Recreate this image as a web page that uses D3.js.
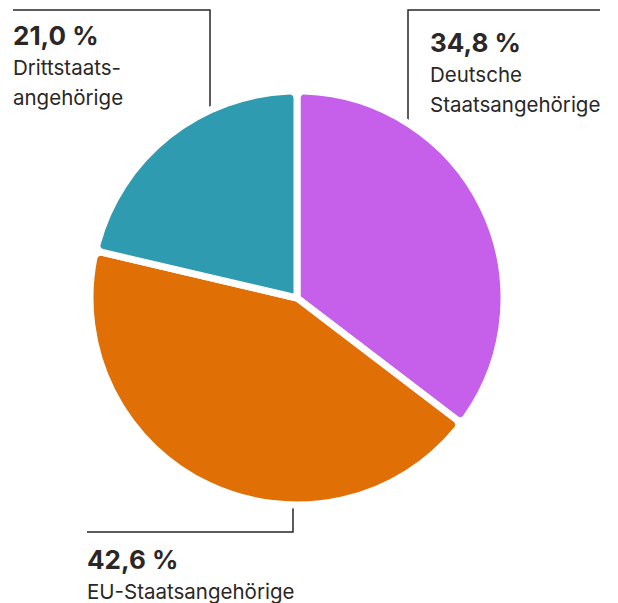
<!DOCTYPE html>
<html>
<head>
<meta charset="utf-8">
<script src="https://cdn.jsdelivr.net/npm/d3@7"></script>
<style>
  body { margin: 0; background: #fff; }
  text { font-family: Inter, "Noto Sans", sans-serif; fill: #2a2726; }
</style>
</head>
<body>
<div id="chart"></div>
<script>
"use strict";

const categories = ["Deutsche Staatsangehörige", "EU-Staatsangehörige", "Drittstaatsangehörige"];
const shares = [34.8, 42.6, 21.0];
const colors = ["#c65fea", "#e06f05", "#2f9bb0"];
const valueLabels = ["34,8 %", "42,6 %", "21,0 %"];
const nameLines = [["Deutsche", "Staatsangehörige"], ["EU-Staatsangehörige"], ["Drittstaats-", "angehörige"]];

const w = 618;
const h = 603;
const cx = 297;
const cy = 298;
const radius = 207;

const svg = d3.select("#chart").append("svg").attr("width", w).attr("height", h);

const pie = d3.pie().sort(null).value((d) => d);
const arcs = pie(shares);

const arc = d3.arc().innerRadius(0).outerRadius(radius).cornerRadius(7);

// leader lines (drawn below the pie so the slice covers their ends)
const leaders = [
  [[600, 10], [408, 10], [408, 140]],
  [[87, 532], [293, 532], [293, 480]],
  [[13, 10], [210, 10], [210, 140]]
];
const line = d3.line();
svg
  .selectAll("path.leader")
  .data(leaders)
  .enter()
  .append("path")
  .attr("class", "leader")
  .attr("d", line)
  .attr("fill", "none")
  .attr("stroke", "#2a2726")
  .attr("stroke-width", 1.5);

const g = svg.append("g").attr("transform", `translate(${cx},${cy})`);
g.selectAll("path.slice")
  .data(arcs)
  .enter()
  .append("path")
  .attr("class", "slice")
  .attr("d", arc)
  .attr("fill", (d, i) => colors[i])
  .attr("stroke", "#fff")
  .attr("stroke-width", 7)
  .attr("stroke-linejoin", "round");

// labels
const labelPos = [
  { x: 430, y: 52 },
  { x: 87, y: 569 },
  { x: 13, y: 45 }
];
labelPos.forEach((p, i) => {
  const t = svg.append("g").attr("transform", `translate(${p.x},${p.y})`);
  t.append("text")
    .attr("font-size", 26)
    .attr("font-weight", 700)
    .text(valueLabels[i]);
  nameLines[i].forEach((ln, j) => {
    t.append("text")
      .attr("y", 30 + j * 30)
      .attr("font-size", 20.5)
      .text(ln);
  });
});
</script>
</body>
</html>
